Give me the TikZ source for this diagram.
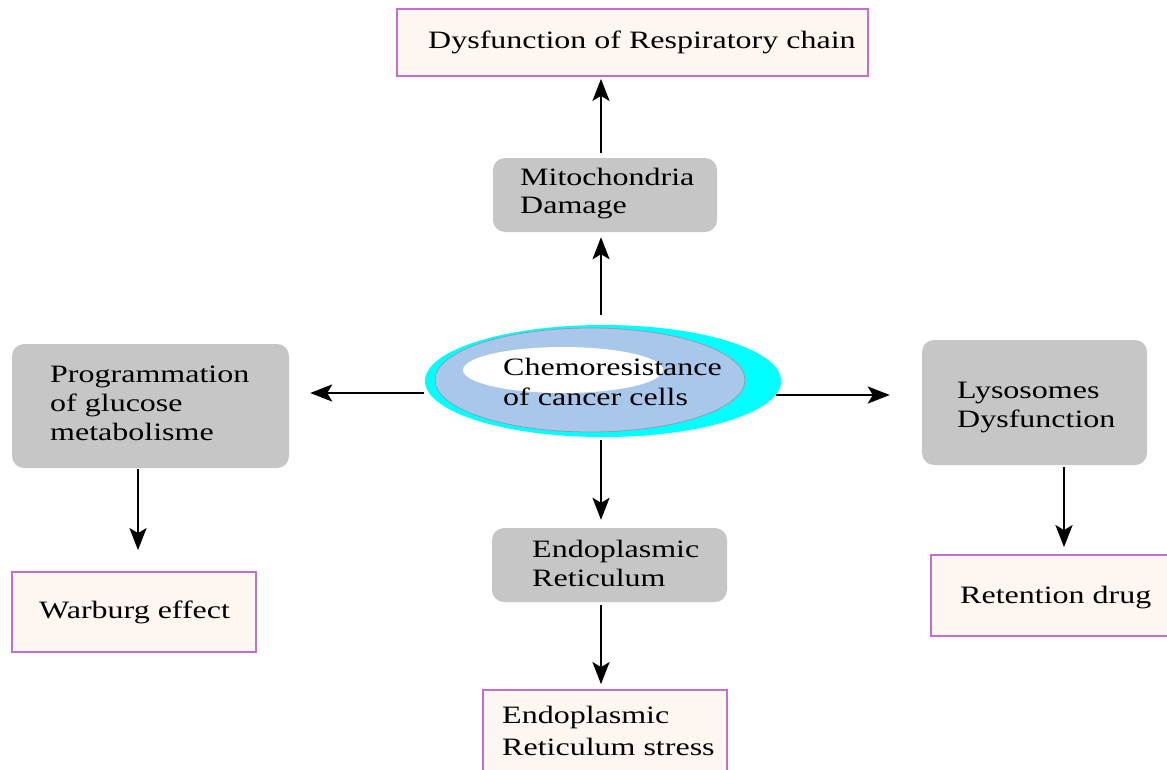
\documentclass[tikz,border=0pt]{standalone}
\usepackage{fontspec}
\setmainfont{Liberation Serif}[FakeStretch=1.28]
\usetikzlibrary{arrows.meta,shapes.geometric}
\definecolor{boxgray}{HTML}{C6C6C6}
\definecolor{cream}{HTML}{FEF6F1}
\definecolor{orchidline}{HTML}{C46FCC}
\definecolor{ringcyan}{HTML}{00FFFF}
\definecolor{coreblue}{HTML}{A9C7EA}
\definecolor{coreedge}{HTML}{8E9EAE}
\tikzset{
  graybox/.style={rectangle, rounded corners=12pt, fill=boxgray, draw=none, inner sep=0pt},
  outbox/.style={rectangle, fill=cream, draw=orchidline, line width=1.8pt, inner sep=0pt},
  lbl/.style={anchor=base west, inner sep=0pt, font=\fontsize{25}{29}\selectfont, text=black},
  arr/.style={-{Stealth[length=22pt,width=17pt,inset=5pt]}, line width=2.4pt, black}
}
\begin{document}
\begin{tikzpicture}[x=1pt,y=-1pt]
\fill[white] (0,0) rectangle (1167,769);
\useasboundingbox (0,0) rectangle (1167,769);
\clip (0,0) rectangle (1167,769);

% reference coordinates for connector lines
\coordinate (ax) at (601,0);
\coordinate (px) at (138,0);
\coordinate (lx) at (1064,0);
\coordinate (ay) at (0,393);
\coordinate (by) at (0,395);

% boxes
\node[outbox, minimum width=471pt, minimum height=67pt] (R1) at (632.5,42.5) {};
\node[graybox, minimum width=224pt, minimum height=74pt] (M) at (605,195) {};
\node[graybox, minimum width=277pt, minimum height=124pt] (P) at (150.5,406) {};
\node[graybox, minimum width=225pt, minimum height=125pt] (L) at (1034.5,402.5) {};
\node[graybox, minimum width=235pt, minimum height=74pt] (E) at (609.5,565) {};
\node[outbox, minimum width=244pt, minimum height=80pt] (W) at (134,612) {};
\node[outbox, minimum width=249pt, minimum height=81pt] (RD) at (1055.5,595.5) {};
\node[outbox, minimum width=244pt, minimum height=100pt] (ERS) at (605,740) {};

% central ellipse
\node[ellipse, fill=ringcyan, draw=none, minimum width=356pt, minimum height=112pt, inner sep=0pt] (C) at (603,381) {};
\filldraw[fill=coreblue, draw=coreedge, line width=0.8pt] (590,380) ellipse [x radius=155, y radius=52];
\fill[white] (563,370) ellipse [x radius=100, y radius=23];

% texts
\node[lbl] (tR1) at (428,48) {Dysfunction of Respiratory chain};
\node[lbl] (tM1) at (520,185) {Mitochondria};
\node[lbl] (tM2) at (520,213) {Damage};
\node[lbl] (tC1) at (503,375) {Chemoresistance};
\node[lbl] (tC2) at (503,405) {of cancer cells};
\node[lbl] (tP1) at (50,382) {Programmation};
\node[lbl] (tP2) at (50,411) {of glucose};
\node[lbl] (tP3) at (50,440) {metabolisme};
\node[lbl] (tL1) at (957,398) {Lysosomes};
\node[lbl] (tL2) at (957,427) {Dysfunction};
\node[lbl] (tE1) at (532,557) {Endoplasmic};
\node[lbl] (tE2) at (532,586) {Reticulum};
\node[lbl] (tW) at (39,618) {Warburg effect};
\node[lbl] (tRD) at (960,603) {Retention drug};
\node[lbl] (tS1) at (502,723) {Endoplasmic};
\node[lbl] (tS2) at (502,755) {Reticulum stress};

% connectors
\draw[arr, shorten <=5pt, shorten >=2pt] (M.north -| ax) -- (R1.south -| ax);
\draw[arr, shorten <=10pt, shorten >=5pt] (C.north -| ax) -- (M.south -| ax);
\draw[arr, shorten <=1pt, shorten >=21pt] (C.west |- ay) -- (P.east |- ay);
\draw[arr, shorten <=-5pt, shorten >=32pt] (C.east |- by) -- (L.west |- by);
\draw[arr, shorten <=3pt, shorten >=8pt] (C.south -| ax) -- (E.north -| ax);
\draw[arr, shorten <=1pt, shorten >=21pt] (P.south -| px) -- (W.north -| px);
\draw[arr, shorten <=2pt, shorten >=7pt] (L.south -| lx) -- (RD.north -| lx);
\draw[arr, shorten <=3pt, shorten >=5pt] (E.south -| ax) -- (ERS.north -| ax);
\end{tikzpicture}
\end{document}
